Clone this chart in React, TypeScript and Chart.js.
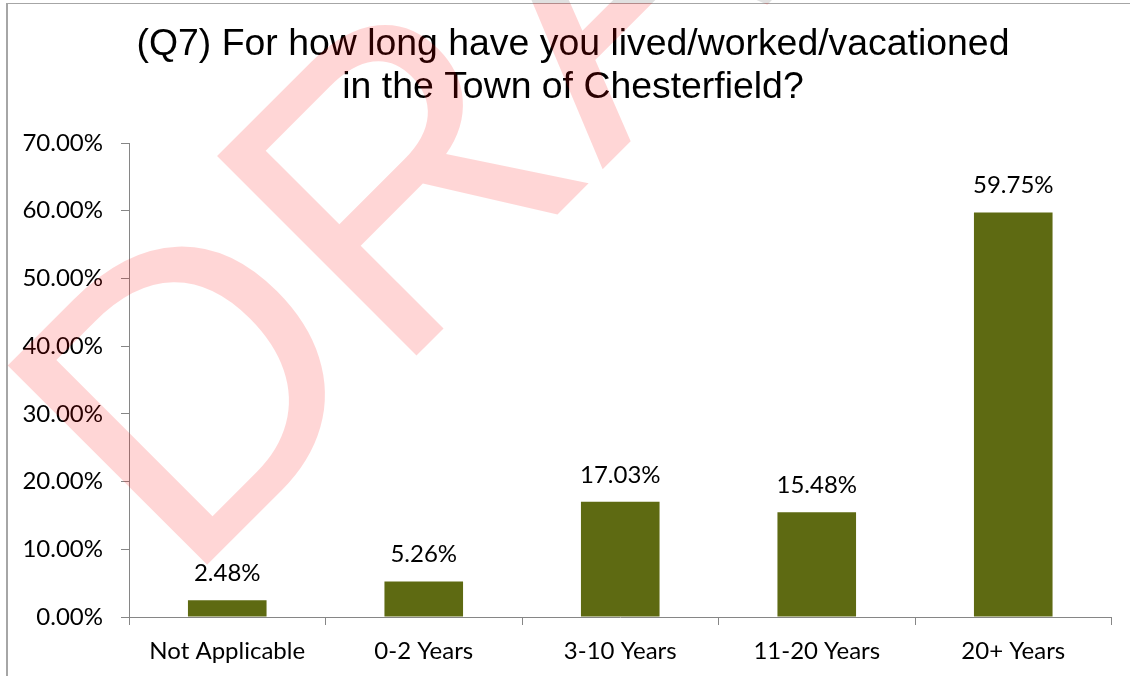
import React, { useEffect, useRef } from "react";
import { Chart, registerables } from "chart.js";

Chart.register(...registerables);

const TITLE_LINES = [
  "(Q7) For how long have you lived/worked/vacationed",
  "in the Town of Chesterfield?",
];
const CATEGORIES = ["Not Applicable", "0-2 Years", "3-10 Years", "11-20 Years", "20+ Years"];
const VALUES = [2.48, 5.26, 17.03, 15.48, 59.75];
const Y_MAX = 70;
const Y_STEP = 10;
const WATERMARK = "DRAFT";

const BAR_COLOR = "#5e6a12";
const AXIS_COLOR = "#868686";
const LABEL_FONT = "Lato";
const TITLE_FONT = "'Liberation Sans', Arial, sans-serif";

const fmt = (v: number) => v.toFixed(2) + "%";

const framePlugin = {
  id: "frame",
  beforeDraw(chart: any) {
    const ctx = chart.ctx;
    ctx.save();
    ctx.fillStyle = "#ffffff";
    ctx.fillRect(0, 0, chart.width, chart.height);
    ctx.strokeStyle = "#a6a6a6";
    ctx.lineWidth = 1;
    ctx.beginPath();
    ctx.moveTo(6, 3.5);
    ctx.lineTo(chart.width, 3.5);
    ctx.stroke();
    ctx.lineWidth = 2;
    ctx.beginPath();
    ctx.moveTo(7, 3);
    ctx.lineTo(7, chart.height);
    ctx.stroke();
    ctx.restore();
  },
};

const titlePlugin = {
  id: "centeredTitle",
  afterDraw(chart: any) {
    const ctx = chart.ctx;
    ctx.save();
    ctx.font = `37.4px ${TITLE_FONT}`;
    ctx.fillStyle = "#000000";
    ctx.textAlign = "center";
    ctx.textBaseline = "middle";
    TITLE_LINES.forEach((line, i) => {
      ctx.fillText(line, 573, 44.5 + i * 43);
    });
    ctx.restore();
  },
};

const valueLabelPlugin = {
  id: "valueLabels",
  afterDatasetsDraw(chart: any) {
    const ctx = chart.ctx;
    const meta = chart.getDatasetMeta(0);
    ctx.save();
    ctx.font = `24px ${LABEL_FONT}`;
    ctx.fillStyle = "#000000";
    ctx.textAlign = "center";
    ctx.textBaseline = "alphabetic";
    meta.data.forEach((bar: any, i: number) => {
      ctx.fillText(fmt(VALUES[i]), bar.x, bar.y - 19);
    });
    ctx.restore();
  },
};

function drawMark(ctx: CanvasRenderingContext2D, color: string) {
  ctx.save();
  ctx.fillStyle = color;
  ctx.font = `410px ${TITLE_FONT}`;
  ctx.textAlign = "left";
  ctx.textBaseline = "alphabetic";
  ctx.translate(206, 566);
  ctx.rotate(-Math.PI / 4);
  const m = ctx.measureText(WATERMARK.charAt(0));
  ctx.fillText(WATERMARK, m.actualBoundingBoxLeft, 0);
  ctx.restore();
}

const watermarkPlugin = {
  id: "watermark",
  afterDraw(chart: any) {
    const ctx = chart.ctx;
    ctx.save();
    ctx.beginPath();
    ctx.rect(0, 0, chart.width, 3);
    ctx.clip();
    drawMark(ctx, "rgba(0, 0, 0, 0.12)");
    ctx.restore();
    ctx.save();
    ctx.beginPath();
    ctx.rect(0, 3, chart.width, chart.height);
    ctx.clip();
    drawMark(ctx, "rgba(255, 0, 0, 0.16)");
    ctx.restore();
  },
};

export default function App() {
  const ref = useRef<HTMLCanvasElement | null>(null);

  useEffect(() => {
    if (!ref.current) return;
    const chart = new Chart(ref.current, {
      type: "bar",
      data: {
        labels: CATEGORIES,
        datasets: [
          {
            data: VALUES,
            backgroundColor: BAR_COLOR,
            borderWidth: 0,
            barPercentage: 0.4,
            categoryPercentage: 1,
          },
        ],
      },
      options: {
        responsive: false,
        animation: false,
        devicePixelRatio: 1,
        layout: { padding: { left: 0, right: 18.5, top: 143, bottom: 0 } },
        plugins: {
          legend: { display: false },
          tooltip: { enabled: false },
          title: { display: false },
        },
        scales: {
          x: {
            grid: {
              display: true,
              drawOnChartArea: false,
              drawTicks: true,
              tickLength: 8,
              color: AXIS_COLOR,
              offset: true,
            },
            border: { display: true, color: AXIS_COLOR, width: 1 },
            ticks: {
              color: "#000000",
              font: { family: LABEL_FONT, size: 24 },
              padding: 12,
              maxRotation: 0,
              autoSkip: false,
            },
            afterFit(scale: any) {
              scale.height = 59;
            },
          },
          y: {
            min: 0,
            max: Y_MAX,
            grid: {
              display: true,
              drawOnChartArea: false,
              drawTicks: true,
              tickLength: 8,
              color: AXIS_COLOR,
            },
            border: { display: true, color: AXIS_COLOR, width: 1 },
            ticks: {
              stepSize: Y_STEP,
              color: "#000000",
              font: { family: LABEL_FONT, size: 24 },
              padding: 18,
              callback: (v: any) => fmt(Number(v)),
            },
            afterFit(scale: any) {
              scale.width = 129;
            },
          },
        },
      },
      plugins: [framePlugin, valueLabelPlugin, titlePlugin, watermarkPlugin],
    });
    return () => chart.destroy();
  }, []);

  return (
    <div style={{ position: "absolute", left: 0, top: 0, width: 1130, height: 676 }}>
      <canvas ref={ref} width={1130} height={676} style={{ width: 1130, height: 676, display: "block" }} />
    </div>
  );
}
